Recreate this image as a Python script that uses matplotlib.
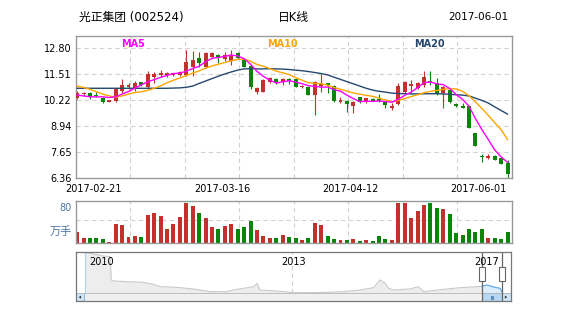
import numpy as np
import matplotlib
matplotlib.use('Agg')
import matplotlib.pyplot as plt
from matplotlib.patches import Rectangle, Polygon

plt.rcParams['font.family'] = ['DejaVu Sans', 'Noto Sans CJK SC']

# daily candles 2017-02-21 .. 2017-06-01
opens = [10.32, 10.52, 10.60, 10.46, 10.35, 10.14, 10.19, 10.70, 10.88, 10.77,
         11.11, 10.90, 11.39, 11.46, 11.46, 11.49, 11.49, 11.48, 11.86, 12.30,
         11.86, 12.38, 12.47, 12.25, 12.19, 12.55, 12.22, 11.94, 10.65, 10.65,
         11.15, 11.26, 11.15, 11.26, 11.26, 10.86, 10.90, 10.49, 10.93, 11.10,
         10.95, 10.12, 10.20, 9.96, 10.37, 10.12, 10.30, 10.29, 10.16, 9.86,
         10.04, 10.65, 10.95, 10.85, 10.98, 11.18, 11.06, 10.57, 10.73, 10.04,
         9.96, 9.94, 8.59, 7.48, 7.38, 7.48, 7.35, 7.10]
closes = [10.60, 10.60, 10.37, 10.43, 10.12, 10.22, 10.78, 10.98, 11.00, 11.06,
          10.96, 11.51, 11.53, 11.56, 11.58, 11.56, 11.61, 12.12, 12.22, 12.05,
          12.58, 12.55, 12.30, 12.47, 12.47, 12.30, 11.89, 10.86, 10.82, 11.23,
          11.31, 11.06, 11.26, 11.20, 10.90, 10.93, 10.49, 11.15, 11.03, 10.98,
          10.20, 10.24, 10.04, 10.16, 10.12, 10.32, 10.20, 10.20, 9.99, 9.96,
          10.95, 11.15, 11.01, 11.10, 11.39, 11.11, 10.53, 10.90, 10.12, 9.96,
          9.86, 8.87, 7.96, 7.40, 7.48, 7.26, 7.07, 6.57]
highs = [10.70, 10.65, 10.65, 10.65, 10.40, 10.25, 10.80, 11.26, 11.10, 11.18,
         11.15, 11.69, 11.61, 11.72, 11.62, 11.60, 11.66, 12.71, 12.68, 12.63,
         12.63, 12.63, 12.50, 12.63, 12.71, 12.60, 12.25, 11.97, 10.90, 11.26,
         11.36, 11.31, 11.31, 11.31, 11.28, 10.96, 10.93, 11.18, 11.51, 11.10,
         10.98, 10.37, 10.22, 10.20, 10.40, 10.35, 10.33, 10.53, 10.19, 10.07,
         11.06, 11.20, 11.23, 11.15, 11.69, 11.69, 11.31, 10.93, 10.76, 10.07,
         10.11, 9.96, 8.60, 7.56, 7.56, 7.50, 7.37, 7.26]
lows = [10.27, 10.44, 10.29, 10.40, 10.07, 10.12, 10.16, 10.57, 10.77, 10.70,
        10.93, 10.77, 11.06, 11.39, 11.40, 11.45, 11.44, 11.44, 11.44, 11.89,
        11.81, 12.30, 12.05, 12.18, 11.97, 12.28, 11.86, 10.80, 10.52, 10.62,
        11.06, 11.03, 10.98, 11.05, 10.88, 10.84, 10.47, 9.49, 10.65, 10.57,
        10.16, 10.07, 9.66, 9.61, 10.09, 10.09, 10.18, 10.16, 9.86, 9.74,
        9.99, 10.60, 10.57, 10.80, 10.90, 10.98, 10.50, 9.82, 10.07, 9.91,
        9.82, 8.85, 7.94, 7.18, 7.30, 7.25, 7.05, 6.36]
volumes = [20.0, 8.7, 8.7, 8.7, 6.9, 1.2, 35.0, 33.1, 10.6, 12.5,
           10.6, 51.8, 55.6, 50.0, 25.6, 35.0, 48.1, 76.2, 68.7, 55.6,
           46.2, 29.4, 25.6, 31.2, 35.0, 25.6, 29.4, 40.6, 24.4, 12.5,
           8.7, 8.7, 14.4, 10.6, 8.7, 4.4, 9.4, 36.8, 33.7, 11.9,
           7.5, 4.4, 4.4, 7.5, 2.5, 5.6, 2.5, 11.9, 7.5, 4.4,
           75.6, 75.6, 47.5, 60.6, 71.8, 75.6, 66.2, 64.3, 55.0, 17.5,
           13.7, 26.2, 21.2, 26.2, 9.4, 9.4, 6.2, 19.4]
ma5 = [10.49, 10.44, 10.40, 10.39, 10.40, 10.36, 10.40, 10.53, 10.66, 10.83,
       10.99, 11.14, 11.25, 11.36, 11.46, 11.55, 11.57, 11.67, 11.80, 11.91,
       12.14, 12.30, 12.35, 12.40, 12.47, 12.42, 12.29, 12.01, 11.66, 11.41,
       11.22, 11.08, 11.14, 11.19, 11.13, 11.05, 10.95, 10.91, 10.88, 10.88,
       10.75, 10.68, 10.48, 10.31, 10.16, 10.18, 10.17, 10.19, 10.16, 10.13,
       10.28, 10.47, 10.63, 10.85, 11.10, 11.13, 11.04, 11.00, 10.81, 10.51,
       10.27, 9.94, 9.32, 8.78, 8.28, 7.77, 7.42, 7.15]
ma10 = [10.93, 10.86, 10.77, 10.65, 10.53, 10.44, 10.38, 10.44, 10.53, 10.61,
        10.65, 10.72, 10.82, 10.94, 11.09, 11.22, 11.33, 11.45, 11.57, 11.68,
        11.82, 11.93, 12.01, 12.10, 12.18, 12.25, 12.26, 12.16, 12.00, 11.91,
        11.80, 11.67, 11.59, 11.50, 11.35, 11.22, 11.10, 11.06, 11.05, 10.97,
        10.86, 10.77, 10.68, 10.59, 10.53, 10.47, 10.42, 10.33, 10.24, 10.15,
        10.22, 10.31, 10.41, 10.50, 10.60, 10.67, 10.71, 10.77, 10.80, 10.79,
        10.67, 10.45, 10.15, 9.82, 9.48, 9.12, 8.77, 8.28]
ma20 = [10.82, 10.82, 10.82, 10.82, 10.82, 10.82, 10.82, 10.82, 10.82, 10.82,
        10.82, 10.82, 10.82, 10.82, 10.82, 10.83, 10.84, 10.87, 10.93, 11.06,
        11.18, 11.30, 11.42, 11.53, 11.63, 11.72, 11.78, 11.79, 11.78, 11.78,
        11.79, 11.78, 11.77, 11.75, 11.72, 11.69, 11.65, 11.60, 11.55, 11.48,
        11.37, 11.26, 11.15, 11.04, 10.93, 10.82, 10.73, 10.67, 10.63, 10.58,
        10.56, 10.55, 10.54, 10.54, 10.55, 10.55, 10.55, 10.54, 10.52, 10.50,
        10.48, 10.44, 10.33, 10.22, 10.09, 9.90, 9.72, 9.54]

price_ticks = [6.36, 7.65, 8.94, 10.22, 11.51, 12.80]
date_labels = ['2017-02-21', '2017-03-16', '2017-04-12', '2017-06-01']

# navigator (whole history)
nav_year = [2008.73, 2008.90, 2009.11, 2009.25, 2009.27, 2009.32, 2009.59, 2009.93,
            2010.14, 2010.28, 2010.62, 2010.96, 2011.31, 2011.65, 2011.79, 2011.99,
            2012.20, 2012.27, 2012.33, 2012.68, 2013.02, 2013.36, 2013.71, 2014.05,
            2014.39, 2014.67, 2014.80, 2014.91, 2014.98, 2015.08, 2015.42, 2015.59,
            2015.70, 2016.11, 2016.45, 2016.79, 2016.90, 2017.00, 2017.14, 2017.27,
            2017.31]
nav_val = [123, 118, 112, 110, 40, 37, 35, 33, 27, 20, 18, 13, 5, 5, 10, 15,
           20, 30, 10, 7, 2, 2, 3, 5, 10, 17, 40, 30, 15, 10, 13, 20, 5, 12, 17,
           20, 21, 25, 19, 15, 5]
nav_labels = ['2010', '2013', '2017']
nav_label_year = [2009.08, 2013.03, 2017.0]

W, H = 578, 309
fig = plt.figure(figsize=(W / 100, H / 100), dpi=100)


def box(x0, y0, x1, y1):
    return [x0 / W, 1 - y1 / H, (x1 - x0) / W, (y1 - y0) / H]


RED, GREEN = '#c4302b', '#0a850a'
BORDER = '#999999'
GRID = '#d2d2d2'
n = len(opens)
x = np.arange(n)
o = np.array(opens); c = np.array(closes)
cols = [RED if c[i] >= o[i] else GREEN for i in range(n)]
xlim = (-0.22, 67.65)
vgrid = [xlim[0] + k * (xlim[1] - xlim[0]) / 8 for k in range(1, 8)]

# ---- price panel
ax = fig.add_axes(box(75.7, 36, 511.7, 178.3))
ax.set_xlim(*xlim)
ax.set_ylim(6.36, 13.41)
for v in vgrid:
    ax.axvline(v, color=GRID, lw=0.8, ls=(0, (4, 3)), zorder=0)
for t in price_ticks[1:]:
    ax.axhline(t, color=GRID, lw=0.8, ls=(0, (4, 3)), zorder=0)
ax.vlines(x, lows, highs, colors=cols, lw=0.8, zorder=2)
ax.bar(x, np.maximum(np.abs(c - o), 0.04), bottom=np.minimum(o, c), width=0.62,
       color=cols, zorder=3)
ax.plot(x, ma20, color='#24486e', lw=1.0, zorder=4)
ax.plot(x, ma10, color='#ffa500', lw=1.0, zorder=4)
ax.plot(x, ma5, color='#ff00ff', lw=1.0, zorder=4)
ax.set_yticks(price_ticks, ['%.2f' % t for t in price_ticks])
ax.set_xticks([2.6, 22.6, 42.5, 62.4], date_labels)
ax.tick_params(length=0, labelsize=7, pad=3)
ax.tick_params(axis='x', pad=4)
for s in ax.spines.values():
    s.set_color(BORDER); s.set_linewidth(1.0)

for lbl, col, xp in [('MA5', '#ff00ff', 133), ('MA10', '#ffa500', 282.5), ('MA20', '#24486e', 429.5)]:
    fig.text(xp / W, 1 - 44 / H, lbl, color=col, fontsize=7, fontweight='bold',
             ha='center', va='center')

fig.text(79 / W, 1 - 17 / H, '光正集团 (002524)', fontsize=8.5, ha='left', va='center')
fig.text(293 / W, 1 - 17 / H, '日K线', fontsize=8.5, ha='center', va='center')
fig.text(508 / W, 1 - 17 / H, '2017-06-01', fontsize=7.5, ha='right', va='center')

# ---- volume panel
axv = fig.add_axes(box(75.7, 200.5, 511.7, 242.7))
axv.set_xlim(*xlim)
axv.set_ylim(0, 80)
for v in vgrid:
    axv.axvline(v, color=GRID, lw=0.8, ls=(0, (4, 3)), zorder=0)
axv.axhline(43, color=GRID, lw=0.8, ls=(0, (4, 3)), zorder=0)
axv.bar(x, volumes, width=0.62, color=cols, zorder=2)
axv.set_xticks([]); axv.set_yticks([])
for s in axv.spines.values():
    s.set_color(BORDER); s.set_linewidth(1.0)
fig.text(72 / W, 1 - 208 / H, '80', color='#4f72a0', fontsize=7, ha='right', va='center')
fig.text(72 / W, 1 - 232 / H, '万手', color='#4f72a0', fontsize=8, ha='right', va='center')

# ---- navigator
axn = fig.add_axes(box(75.7, 252.3, 510.7, 301))
x0n, x1n = 2008.54, 2017.49
axn.set_xlim(x0n, x1n)
axn.set_ylim(-23, 123)
ny = np.array(nav_year); nv = np.array(nav_val)
sel = ny >= 2016.90
axn.fill_between(ny, 0, nv, color='#ededed', lw=0)
axn.plot(ny[~sel | (ny == 2016.90)], nv[~sel | (ny == 2016.90)], color='#c9c9c9', lw=0.8)
axn.fill_between(ny[sel], 0, nv[sel], color='#dcecfa', lw=0)
axn.plot(ny[sel], nv[sel], color='#5fa8e6', lw=0.9)
axn.axvline(2008.73, ymin=23 / 146, color='#a8d0f0', lw=0.8)
axn.axvline(2013.0, ymin=23 / 146, color='#cfcfcf', lw=0.8, ls=(0, (4, 3)))
for lbl, yr in zip(nav_labels, nav_label_year):
    axn.text(yr, 94, lbl, fontsize=7, ha='center', va='center')
# scrollbar
axn.add_patch(Rectangle((x0n, -23), x1n - x0n, 23, fc='#f0f0f0', ec='#cccccc', lw=0.6))
axn.add_patch(Rectangle((x0n, -23), 0.17, 23, fc='#cfe5f8', ec='#7aaedc', lw=0.6))
axn.add_patch(Rectangle((2017.31, -23), 0.18, 23, fc='#cfe5f8', ec='#7aaedc', lw=0.6))
axn.add_patch(Polygon([[x0n + 0.11, -16], [x0n + 0.11, -7], [x0n + 0.06, -11.5]], fc='#333'))
axn.add_patch(Polygon([[2017.37, -16], [2017.37, -7], [2017.42, -11.5]], fc='#333'))
axn.add_patch(Rectangle((2016.90, -23), 0.41, 23, fc='#b7d7f3', ec='#5b9bd5', lw=0.6))
for g in (-0.03, 0.0, 0.03):
    axn.plot([2017.105 + g] * 2, [-16, -7], color='#4a7fb0', lw=0.6)
axn.axhline(0, color='#bbbbbb', lw=0.6)
for xe in (2016.90, 2017.31):
    axn.plot([xe, xe], [-23, 123], color='#666666', lw=0.9)
    axn.add_patch(Rectangle((xe - 0.055, 37), 0.11, 43, fc='white', ec='#666666', lw=0.8, zorder=5))
axn.set_xticks([]); axn.set_yticks([])
for s in axn.spines.values():
    s.set_color('#777777'); s.set_linewidth(0.9)

fig.savefig('out.png', dpi=100)
